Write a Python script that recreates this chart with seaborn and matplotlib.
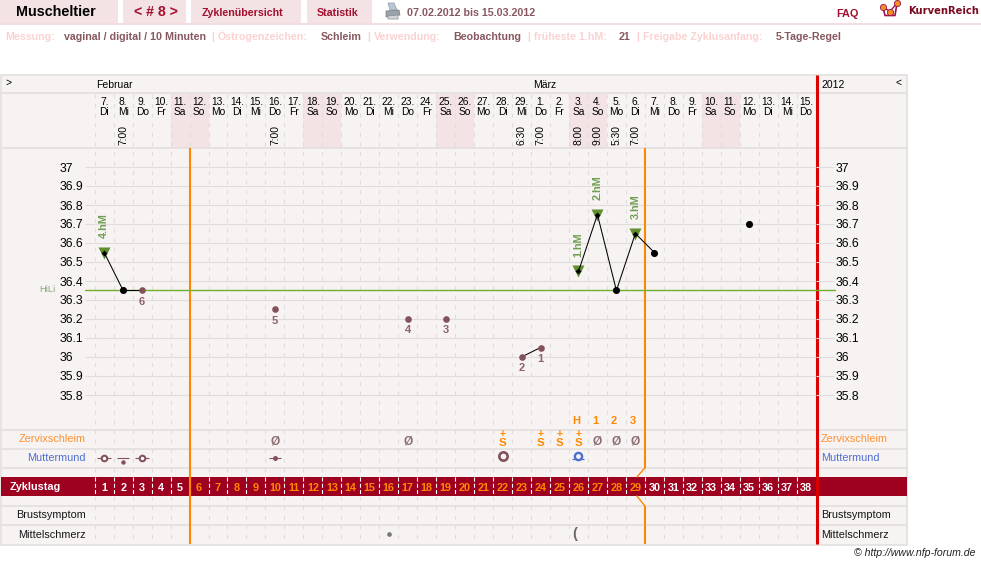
import matplotlib
matplotlib.use("Agg")
import matplotlib.pyplot as plt
import pandas as pd
import seaborn as sns
from matplotlib.patches import Polygon, Rectangle
from matplotlib.transforms import blended_transform_factory

# ---- chart data -------------------------------------------------------
cycle_days = list(range(1, 39))
date_numbers = [7, 8, 9, 10, 11, 12, 13, 14, 15, 16, 17, 18, 19, 20, 21, 22, 23, 24, 25, 26, 27, 28, 29,
                1, 2, 3, 4, 5, 6, 7, 8, 9, 10, 11, 12, 13, 14, 15]
weekdays = ["Di", "Mi", "Do", "Fr", "Sa", "So", "Mo"] * 5 + ["Di", "Mi", "Do"]

time_days = [2, 10, 23, 24, 26, 27, 28, 29]
time_labels = ["7:00", "7:00", "6:30", "7:00", "8:00", "9:00", "5:30", "7:00"]

# temperature curve: connected stretches carry a shared segment id
curve_days = [1, 2, 3, 23, 24, 26, 27, 28, 29, 30]
curve_temps = [36.55, 36.35, 36.35, 36.00, 36.05, 36.45, 36.75, 36.35, 36.65, 36.55]
curve_segments = [1, 1, 1, 2, 2, 3, 3, 3, 3, 3]

black_days = [2, 28, 30, 35]
black_temps = [36.35, 36.35, 36.55, 36.70]

peak_days = [1, 26, 27, 29]
peak_temps = [36.55, 36.45, 36.75, 36.65]
peak_labels = ["4.hM", "1.hM", "2.hM", "3.hM"]

excluded_days = [3, 10, 17, 19, 23, 24]
excluded_temps = [36.35, 36.25, 36.20, 36.20, 36.00, 36.05]
excluded_labels = ["6", "5", "4", "3", "2", "1"]

cover_line = 36.35
temp_ticks = [37, 36.9, 36.8, 36.7, 36.6, 36.5, 36.4, 36.3, 36.2, 36.1, 36, 35.9, 35.8]
temp_tick_labels = ["37", "36.9", "36.8", "36.7", "36.6", "36.5", "36.4", "36.3", "36.2", "36.1", "36", "35.9", "35.8"]

dry_days = [10, 17, 27, 28, 29]
fertile_days = [22, 24, 25, 26]
peak_count_days = [26, 27, 28, 29]
peak_count_labels = ["H", "1", "2", "3"]

fertile_start, fertile_end = 5.5, 29.5

# ---- colours ----------------------------------------------------------
BG = "#f8f3f3"
GRID = "#e0dddc"
CELL = "#f3e3e5"
WINE = "#9e0020"
HEAD_RED = "#a31030"
ORANGE = "#ff8800"
RED = "#dc0000"
BROWN = "#84525a"
GREEN = "#5f8f2e"
HILI = "#6fae2a"
GREEN_TXT = "#6f9f52"
BLUE = "#4f6fd0"
PALE = "#fbd2d2"
MUTED = "#87585f"

W, H = 981, 564
sns.set_theme(style="white", rc={"lines.scale_dashes": False})
plt.rcParams["font.family"] = ["Liberation Sans", "DejaVu Sans"]
fig = plt.figure(figsize=(W / 100, H / 100), dpi=100, facecolor="white")

# page furniture lives on a full-figure canvas measured in pixels
page = fig.add_axes([0, 0, 1, 1], zorder=0)
page.set_xlim(0, W)
page.set_ylim(H, 0)
page.axis("off")

LEFT, RIGHT, TOP, BOTTOM = 94.7, 815.6, 148.0, 430.0
ax = fig.add_axes([LEFT / W, 1 - BOTTOM / H, (RIGHT - LEFT) / W, (BOTTOM - TOP) / H], zorder=2)
ax.patch.set_alpha(0)


def row(y_px):
    """Temperature value that sits at a given pixel row of the sheet."""
    return 37 - (y_px - 167.0) / 190


ax.set_xlim(0.5, 38.5)
ax.set_ylim(row(BOTTOM), row(TOP))
for s in ax.spines.values():
    s.set_visible(False)

# ---- page header ------------------------------------------------------
for x0, x1 in [(0, 118), (123, 186), (191, 301), (307, 372)]:
    page.add_patch(Rectangle((x0, 0), x1 - x0, 23, fc=CELL, ec="none"))
page.add_patch(Rectangle((0, 23), W, 2, fc="#f3dde0", ec="none"))

page.text(16, 12.5, "Muscheltier", fontsize=10.4, fontweight="bold", color="black", va="center")
page.text(155.5, 12.5, "< # 8 >", fontsize=10.2, fontweight="bold", color=HEAD_RED, va="center", ha="center")
page.text(242, 12.5, "Zyklenübersicht", fontsize=7.7, fontweight="bold", color=HEAD_RED, va="center", ha="center")
page.text(337.5, 12.5, "Statistik", fontsize=7.7, fontweight="bold", color=HEAD_RED, va="center", ha="center")
page.text(407, 12.5, "07.02.2012 bis 15.03.2012", fontsize=7.7, fontweight="bold", color=MUTED, va="center")
page.text(836, 14, "FAQ", fontsize=7.8, fontweight="bold", color=HEAD_RED, va="center")
page.text(908, 10.5, "KurvenReich", fontsize=7.2, fontweight="bold", color="#7a0a20", va="center",
          family="DejaVu Sans")

# printer icon
page.add_patch(Polygon([(388, 3), (394, 3), (397, 10), (390, 10)], fc="#b9c6d6", ec="#8d9aa8", lw=0.5))
page.add_patch(Polygon([(386, 11), (399, 10), (400, 15), (386, 17)], fc="#9aa1a8", ec="#777c82", lw=0.5))
page.add_patch(Polygon([(388, 16), (398, 15), (398, 19), (388, 19)], fc="#d4d7da", ec="#8a8e92", lw=0.5))

# logo
page.plot([883, 885, 895, 897], [7, 15.5, 15.5, 3], color="#a01050", lw=1.2)
page.plot([883, 890, 897], [7, 11.5, 3], color="#a01050", lw=1.0)
page.scatter([883, 890, 897], [7, 11.5, 3], s=20, c="#f09020", edgecolors="#a01050", linewidths=0.6, zorder=3)

settings = [
    (5, "Messung:", PALE), (64, "vaginal / digital / 10 Minuten", MUTED), (211, "|", PALE),
    (218, "Östrogenzeichen:", PALE), (321, "Schleim", MUTED), (367, "|", PALE),
    (374, "Verwendung:", PALE), (453, "Beobachtung", MUTED), (527, "|", PALE),
    (534, "früheste 1.hM:", PALE), (619, "21", MUTED), (636, "|", PALE),
    (643, "Freigabe Zyklusanfang:", PALE), (776, "5-Tage-Regel", MUTED),
]
for x, label, colour in settings:
    page.text(x, 40, label, fontsize=7.7, fontweight="bold", color=colour, va="baseline")

# ---- sheet background and rules ---------------------------------------
page.add_patch(Rectangle((0.5, 75), 906, 469.5, fc=BG, ec=GRID, lw=1.1))
for y in [93, 148, 430, 449, 468, 506, 525]:
    page.plot([0.5, 906.5], [y, y], color=GRID, lw=1.1, solid_capstyle="butt")
page.add_patch(Rectangle((1, 477), 905.5, 19, fc=WINE, ec="none"))

page.text(96, 84.5, "Februar", fontsize=7.5, color="black", va="center")
page.text(533, 84.5, "März", fontsize=7.5, color="black", va="center")
page.text(821, 84.5, "2012", fontsize=7.5, color="black", va="center")
page.text(5, 83, ">", fontsize=7.5, color="black", va="center")
page.text(896, 83, "<", fontsize=7.5, color="black", va="center")

for x, ha in [(86, "right"), (821, "left")]:
    page.text(x, 439.5, "Zervixschleim", fontsize=7.8, color="#ff9030", va="center", ha=ha)
    page.text(x, 458, "Muttermund", fontsize=7.8, color=BLUE, va="center", ha=ha)
    page.text(x, 515, "Brustsymptom", fontsize=7.8, color="#151515", va="center", ha=ha)
    page.text(x, 534.5, "Mittelschmerz", fontsize=7.8, color="#151515", va="center", ha=ha)
page.text(10, 487, "Zyklustag", fontsize=7.8, fontweight="bold", color="white", va="center")
page.text(976, 552.5, "© http://www.nfp-forum.de", fontsize=7.6, style="italic", color="#222222",
          va="center", ha="right")
page.text(55, 289.5, "HiLi", fontsize=6.8, color="#8aa878", va="center", ha="right")

# ---- weekend shading in the date header, behind every label -----------
day_px = blended_transform_factory(ax.transData, page.transData)
for d, wd in zip(cycle_days, weekdays):
    if wd in ("Sa", "So"):
        page.add_patch(Rectangle((d - 0.5, 94), 1, 53.5, fc=CELL, ec="none", transform=day_px, zorder=1.5))

# ---- axes: temperature scale on both sides, dates on top, cycle days below
ax.set_yticks(temp_ticks, temp_tick_labels)
ax.tick_params(axis="y", left=True, length=7.2, width=0.8, color=GRID, pad=17.8, labelsize=8.8,
               labelcolor="black")
for lab in ax.get_yticklabels():
    lab.set_ha("left")
    lab.set_va("center_baseline")
ax.grid(axis="y", color=GRID, lw=0.8, zorder=0.5)
ax.grid(axis="x", visible=False)

right = ax.twinx()
right.set_ylim(ax.get_ylim())
right.patch.set_alpha(0)
for s in right.spines.values():
    s.set_visible(False)
right.set_yticks(temp_ticks, temp_tick_labels)
right.grid(False)
right.tick_params(axis="y", right=True, length=13.2, width=0.8, color=GRID, pad=1.5, labelsize=8.8,
                  labelcolor="black")
for lab in right.get_yticklabels():
    lab.set_va("center_baseline")

ax.set_xticks(cycle_days, [str(d) for d in cycle_days])
ax.tick_params(axis="x", bottom=False, length=0, pad=38, labelsize=7.8)
for d, lab in zip(cycle_days, ax.get_xticklabels()):
    lab.set_color(ORANGE if fertile_start < d < fertile_end else "white")
    lab.set_fontweight("bold")

dates = ax.secondary_xaxis("top")
dates.set_xticks(cycle_days, [f"{n}.\n{w}" for n, w in zip(date_numbers, weekdays)])
dates.tick_params(axis="x", length=0, pad=22, labelsize=7.4, labelcolor="black")
for lab in dates.get_xticklabels():
    lab.set_linespacing(1.05)
dates.spines["top"].set_visible(False)

for d, t in zip(time_days, time_labels):
    ax.text(d, row(135), t, rotation=90, fontsize=7.4, color="black", ha="center", va="center")

# ---- column separators ------------------------------------------------
edges = [d + 0.5 for d in [0] + cycle_days[:-1]]
dash = (0, (2.9, 4.0))
ax.vlines(edges, row(94), row(477), color=GRID, lw=0.8, linestyles=[dash], clip_on=False, zorder=1)
ax.vlines(edges, row(496), row(544), color=GRID, lw=0.8, linestyles=[dash], clip_on=False, zorder=1)
ax.vlines(edges, row(477), row(496), color="white", lw=0.8, linestyles=[(0, (2.9, 1.6))], clip_on=False, zorder=1.2)

# ---- fertile window and cycle end -------------------------------------
ax.plot([fertile_start] * 2, [row(148), row(544)], color=ORANGE, lw=1.5, clip_on=False, zorder=1.5,
        solid_capstyle="butt")
ax.plot([fertile_end, fertile_end], [row(148), row(468)], color=ORANGE, lw=1.5, clip_on=False, zorder=1.5,
        solid_capstyle="butt")
ax.plot([fertile_end, fertile_end], [row(506), row(544)], color=ORANGE, lw=1.5, clip_on=False, zorder=1.5,
        solid_capstyle="butt")
ax.plot([fertile_end, fertile_end - 0.42], [row(468), row(477)], color=ORANGE, lw=1.0, clip_on=False, zorder=1.5)
ax.plot([fertile_end - 0.42, fertile_end], [row(496), row(506)], color=ORANGE, lw=1.0, clip_on=False, zorder=1.5)
ax.plot([38.55] * 2, [row(75), row(544)], color=RED, lw=2.2, clip_on=False, zorder=1.6, solid_capstyle="butt")

ax.axhline(cover_line, xmin=-10 / (RIGHT - LEFT), xmax=1 + 19 / (RIGHT - LEFT), color=HILI, lw=1.0,
           clip_on=False, zorder=1.7)

# ---- temperature marks ------------------------------------------------
curve = pd.DataFrame({"day": curve_days, "temp": curve_temps, "segment": curve_segments})
peaks = pd.DataFrame({"day": peak_days, "temp": peak_temps})
black = pd.DataFrame({"day": black_days, "temp": black_temps})
excluded = pd.DataFrame({"day": excluded_days, "temp": excluded_temps})

sns.scatterplot(data=peaks, x="day", y="temp", marker="v", s=75, color=GREEN, linewidth=0, ax=ax, zorder=3,
                legend=False)
sns.lineplot(data=curve, x="day", y="temp", units="segment", estimator=None, sort=False, color="black", lw=0.75,
             ax=ax, zorder=4, legend=False)
sns.scatterplot(data=excluded, x="day", y="temp", s=23, color=BROWN, linewidth=0, ax=ax, zorder=5, legend=False)
sns.scatterplot(data=black, x="day", y="temp", s=26, color="black", linewidth=0, ax=ax, zorder=5, legend=False)
sns.scatterplot(data=peaks, x="day", y="temp", s=9, color="black", marker="D", linewidth=0, ax=ax, zorder=5,
                legend=False)
ax.set_xlabel("")
ax.set_ylabel("")

for d, t, lab in zip(peak_days, peak_temps, peak_labels):
    ax.annotate(lab, (d, t), xytext=(0, 10.5), textcoords="offset points", rotation=90, ha="center", va="bottom",
                fontsize=7.8, fontweight="bold", color=GREEN_TXT)
for d, t, lab in zip(excluded_days, excluded_temps, excluded_labels):
    ax.annotate(lab, (d, t), xytext=(0, -8), textcoords="offset points", ha="center", va="center",
                fontsize=8, fontweight="bold", color="#8f6268")

# ---- observation rows -------------------------------------------------
for d in dry_days:
    ax.text(d, row(441.5), "Ø", fontsize=8.6, fontweight="bold", color="#8b6d6d", ha="center", va="center")
for d in fertile_days:
    ax.text(d, row(443), "S", fontsize=8.2, fontweight="bold", color=ORANGE, ha="center", va="center")
    ax.text(d, row(434.5), "+", fontsize=7.5, fontweight="bold", color=ORANGE, ha="center", va="center")
for d, lab in zip(peak_count_days, peak_count_labels):
    ax.annotate(lab, (d, row(421)), xytext=(-1.8, 0), textcoords="offset points", fontsize=8, fontweight="bold",
                color=ORANGE, ha="center", va="center", annotation_clip=False)

# cervix row: dash for position, ring or dot for opening and firmness
for d in [1, 3]:
    ax.plot([d - 0.02], [row(458.5)], marker="_", ms=10.5, mew=0.8, color=BROWN, clip_on=False, zorder=3)
    ax.plot([d - 0.02], [row(458.5)], marker="o", ms=4.0, mfc="white", mew=1.5, mec=BROWN, clip_on=False, zorder=4)
ax.plot([2], [row(458)], marker="_", ms=8, mew=0.8, color=BROWN, clip_on=False, zorder=3)
ax.plot([2], [row(462.5)], marker="o", ms=3.2, mew=0, color=BROWN, clip_on=False, zorder=4)
ax.plot([10], [row(458.5)], marker="_", ms=8, mew=0.8, color=BROWN, clip_on=False, zorder=3)
ax.plot([10], [row(458.5)], marker="o", ms=3.6, mew=0, color=BROWN, clip_on=False, zorder=4)
ax.plot([22], [row(456.5)], marker="o", ms=6, mfc=BG, mew=1.9, mec=BROWN, clip_on=False, zorder=4)
ax.plot([26], [row(459.5)], marker="_", ms=8, mew=0.9, color=BLUE, clip_on=False, zorder=3)
ax.plot([26], [row(456.5)], marker="o", ms=5.2, mfc=BG, mew=1.7, mec=BLUE, clip_on=False, zorder=4)

# mid-cycle pain row
ax.plot([16], [row(534.5)], marker="o", ms=3.4, mew=0, color="#7a7a7a", clip_on=False, zorder=4)
ax.text(25.8, row(534), "(", fontsize=10.5, fontweight="bold", color="#6a6a6a", ha="center", va="center")

fig.savefig("out.png", dpi=100, facecolor="white")
